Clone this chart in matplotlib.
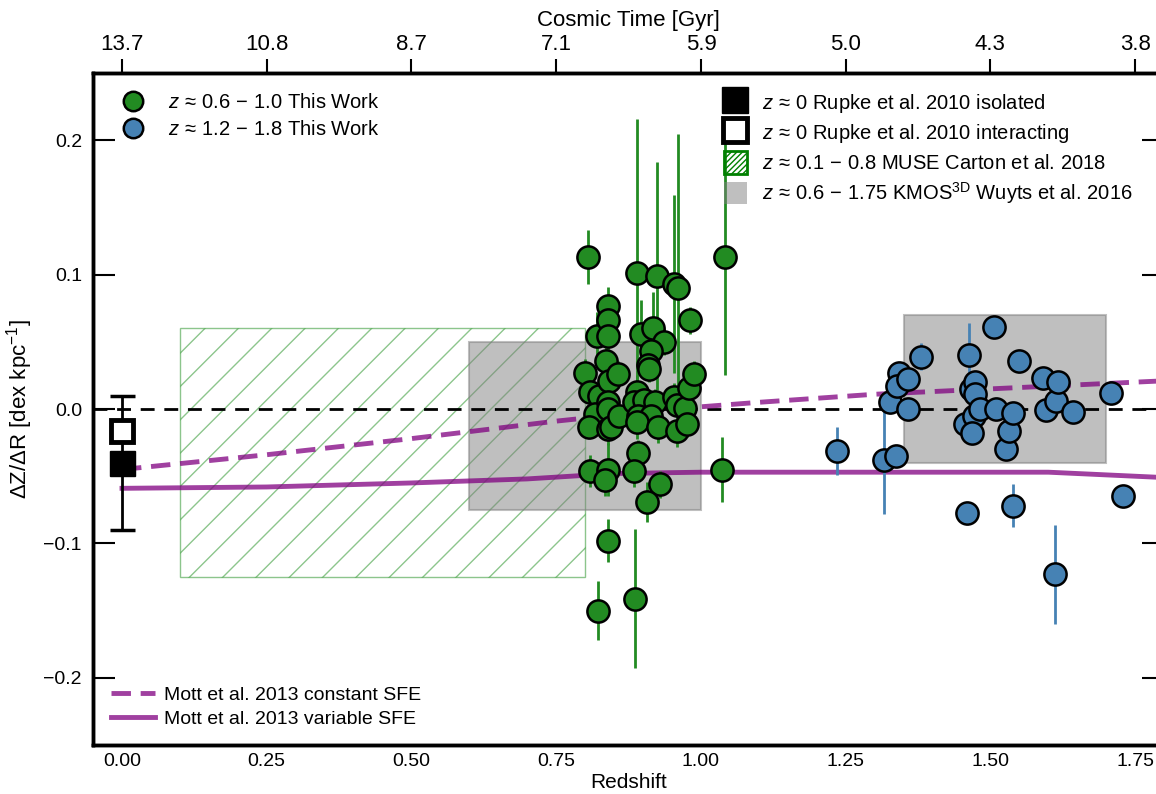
import numpy as np
import matplotlib.pyplot as plt
from matplotlib.patches import Rectangle, Patch
from matplotlib.lines import Line2D

plt.rcParams['font.family'] = ['Liberation Sans', 'DejaVu Sans']
plt.rcParams['mathtext.fontset'] = 'custom'
plt.rcParams['mathtext.rm'] = 'Liberation Sans'
plt.rcParams['mathtext.it'] = 'Liberation Sans:italic'
plt.rcParams['font.size'] = 14

# z ~ 0.6-1.0 sample (redshift, gradient, error)
z_lo = [0.805, 0.800, 0.808, 0.824, 0.817, 0.807, 0.808, 0.820, 0.840, 0.840,
        0.840, 0.836, 0.841, 0.857, 0.840, 0.840, 0.840, 0.845, 0.859, 0.840,
        0.834, 0.840, 0.822, 0.890, 0.924, 0.954, 0.960, 0.897, 0.917, 0.936,
        0.914, 0.909, 0.911, 0.890, 0.884, 0.902, 0.921, 0.891, 0.914, 0.890,
        0.926, 0.954, 0.959, 0.973, 0.979, 0.988, 0.981, 0.959, 0.976, 0.891,
        0.884, 1.036, 1.042, 0.929, 0.907, 0.886]
grad_lo = [0.113, 0.027, 0.013, 0.010, -0.004, -0.013, -0.046, 0.054, 0.077, 0.066,
           0.054, 0.036, 0.021, 0.026, 0.005, 0.000, -0.015, -0.013, -0.005, -0.045,
           -0.053, -0.098, -0.150, 0.101, 0.099, 0.093, 0.090, 0.056, 0.060, 0.050,
           0.043, 0.033, 0.030, 0.013, 0.005, 0.007, 0.005, -0.005, -0.005, -0.010,
           -0.013, 0.009, 0.003, 0.001, 0.016, 0.026, 0.066, -0.016, -0.011, -0.033,
           -0.046, -0.045, 0.113, -0.056, -0.069, -0.141]
err_lo = [0.020, 0.010, 0.008, 0.010, 0.010, 0.008, 0.012, 0.018, 0.014, 0.010,
          0.010, 0.012, 0.010, 0.010, 0.010, 0.010, 0.012, 0.010, 0.008, 0.020,
          0.012, 0.016, 0.022, 0.115, 0.085, 0.066, 0.115, 0.025, 0.027, 0.010,
          0.010, 0.012, 0.010, 0.012, 0.010, 0.010, 0.010, 0.010, 0.010, 0.012,
          0.012, 0.010, 0.012, 0.010, 0.010, 0.010, 0.010, 0.012, 0.010, 0.010,
          0.012, 0.024, 0.088, 0.010, 0.015, 0.052]

# z ~ 1.2-1.8 sample
z_hi = [1.235, 1.316, 1.337, 1.327, 1.342, 1.339, 1.358, 1.358, 1.380, 1.460,
        1.463, 1.456, 1.467, 1.473, 1.473, 1.472, 1.468, 1.482, 1.506, 1.510,
        1.527, 1.532, 1.539, 1.539, 1.549, 1.591, 1.596, 1.612, 1.613, 1.617,
        1.643, 1.708, 1.729]
grad_hi = [-0.031, -0.038, -0.035, 0.005, 0.027, 0.017, 0.022, 0.000, 0.039, -0.077,
           0.040, -0.011, 0.015, 0.020, 0.011, -0.005, -0.018, 0.000, 0.061, 0.000,
           -0.030, -0.016, -0.003, -0.072, 0.036, 0.023, -0.001, -0.123, 0.006, 0.020,
           -0.002, 0.012, -0.065]
err_hi = [0.018, 0.040, 0.005, 0.005, 0.005, 0.005, 0.005, 0.005, 0.010, 0.005,
          0.024, 0.005, 0.005, 0.005, 0.005, 0.005, 0.005, 0.005, 0.005, 0.005,
          0.005, 0.005, 0.005, 0.016, 0.005, 0.005, 0.005, 0.037, 0.005, 0.005,
          0.005, 0.005, 0.005]

# Rupke et al. 2010 local values
rupke_iso = (0.0, -0.040, 0.050)
rupke_int = (0.0, -0.016)

# Mott et al. 2013 models
mott_z = [0.0, 0.25, 0.5, 0.75, 0.95, 1.1, 1.3, 1.5, 1.8]
mott_const = [-0.045, -0.034, -0.022, -0.009, 0.000, 0.005, 0.011, 0.015, 0.021]
mott_var_z = [0.0, 0.25, 0.5, 0.7, 0.85, 1.0, 1.25, 1.5, 1.6, 1.8]
mott_var = [-0.059, -0.058, -0.055, -0.052, -0.048, -0.047, -0.047, -0.047, -0.047, -0.051]

# literature ranges: (z_min, z_max, grad_min, grad_max)
carton = (0.1, 0.8, -0.125, 0.06)
wuyts = [(0.6, 1.0, -0.075, 0.05), (1.35, 1.7, -0.04, 0.07)]

top_ticks = [0.0, 0.25, 0.5, 0.75, 1.0, 1.25, 1.5, 1.75]
top_labels = ['13.7', '10.8', '8.7', '7.1', '5.9', '5.0', '4.3', '3.8']

fig = plt.figure(figsize=(11.56, 7.94), dpi=100)
ax = fig.add_axes([0.0805, 0.0617, 0.9265, 0.8463])

ax.add_patch(Rectangle((carton[0], carton[2]), carton[1] - carton[0], carton[3] - carton[2],
                       fill=False, edgecolor='green', alpha=0.45, hatch='/', lw=1, zorder=1))
for z0, z1, g0, g1 in wuyts:
    ax.add_patch(Rectangle((z0, g0), z1 - z0, g1 - g0, facecolor='grey', edgecolor='grey',
                           alpha=0.5, lw=1.5, zorder=2))

ax.axhline(0, color='k', ls=(0, (5, 3.5)), lw=2, zorder=3)
ax.plot(mott_z, mott_const, color='purple', alpha=0.75, lw=3.5, ls=(0, (4, 2)), zorder=3)
ax.plot(mott_var_z, mott_var, color='purple', alpha=0.75, lw=3.5, zorder=3)

ax.errorbar(z_lo, grad_lo, yerr=err_lo, fmt='o', color='forestgreen', ms=16, mec='k',
            mew=1.8, elinewidth=2, zorder=5)
ax.errorbar(z_hi, grad_hi, yerr=err_hi, fmt='o', color='steelblue', ms=16, mec='k',
            mew=1.8, elinewidth=2, zorder=5)

ax.errorbar([rupke_iso[0]], [rupke_iso[1]], yerr=[rupke_iso[2]], fmt='s', color='k', ms=18,
            mec='k', elinewidth=2, capsize=9, capthick=2.5, zorder=6)
ax.plot([rupke_int[0]], [rupke_int[1]], 's', ms=16, mfc='white', mec='k', mew=3.5, zorder=6)

ax.set_xlim(-0.05, 1.8)
ax.set_ylim(-0.25, 0.25)
ax.set_xticks(top_ticks)
ax.set_xticklabels(['%.2f' % t for t in top_ticks])
ax.set_yticks([-0.2, -0.1, 0.0, 0.1, 0.2])
ax.set_yticklabels(['\u22120.2', '\u22120.1', '0.0', '0.1', '0.2'])
ax.tick_params(axis='y', direction='in', length=16, width=1.5, left=True, right=True,
               labelsize=14, pad=8)
ax.tick_params(axis='x', direction='in', length=0, labelsize=14, pad=6)
ax.set_xlabel('Redshift', fontsize=15, labelpad=2)
ax.set_ylabel(r'$\Delta$Z/$\Delta$R [dex kpc$^{-1}$]', fontsize=16, labelpad=6)
for s in ax.spines.values():
    s.set_linewidth(2.5)

ax2 = ax.twiny()
ax2.set_xlim(ax.get_xlim())
ax2.set_xticks(top_ticks)
ax2.set_xticklabels(top_labels)
ax2.tick_params(axis='x', direction='out', length=10, width=1.5, labelsize=16, pad=3)
ax2.set_xlabel('Cosmic Time [Gyr]', fontsize=16, labelpad=6)
for s in ax2.spines.values():
    s.set_linewidth(2.5)

# legends
h1 = [Line2D([], [], ls='none', marker='o', ms=14, mfc='forestgreen', mec='k', mew=1.8),
      Line2D([], [], ls='none', marker='o', ms=14, mfc='steelblue', mec='k', mew=1.8)]
leg1 = ax.legend(h1, [r'$z\,\approx\,0.6\,-\,1.0$ This Work',
                      r'$z\,\approx\,1.2\,-\,1.8$ This Work'],
                 loc='upper left', bbox_to_anchor=(0.0, 0.997), frameon=False, fontsize=14.5,
                 handlelength=2.2, handletextpad=0.6, labelspacing=0.4)
ax.add_artist(leg1)

h2 = [Line2D([], [], ls='none', marker='s', ms=19, mfc='k', mec='k'),
      Line2D([], [], ls='none', marker='s', ms=17, mfc='white', mec='k', mew=3.5),
      Patch(facecolor='none', edgecolor='green', hatch='//////', lw=2),
      Patch(facecolor='grey', edgecolor='none', alpha=0.5)]
leg2 = ax.legend(h2, [r'$z\,\approx\,0$ Rupke et al. 2010 isolated',
                      r'$z\,\approx\,0$ Rupke et al. 2010 interacting',
                      r'$z\,\approx\,0.1\,-\,0.8$ MUSE Carton et al. 2018',
                      r'$z\,\approx\,0.6\,-\,1.75$ KMOS$^{\mathrm{3D}}$ Wuyts et al. 2016'],
                 loc='upper left', bbox_to_anchor=(0.572, 1.0), frameon=False, fontsize=14.5,
                 handlelength=1.15, handleheight=1.35, handletextpad=0.75, labelspacing=0.3)
ax.add_artist(leg2)

h3 = [Line2D([], [], color='purple', alpha=0.75, lw=3.5, ls=(0, (4, 2))),
      Line2D([], [], color='purple', alpha=0.75, lw=3.5)]
ax.legend(h3, ['Mott et al. 2013 constant SFE', 'Mott et al. 2013 variable SFE'],
          loc='lower left', frameon=False, fontsize=14, handlelength=2.3,
          handletextpad=0.45, labelspacing=0.3)

fig.savefig('out.png', dpi=100, facecolor='white')
